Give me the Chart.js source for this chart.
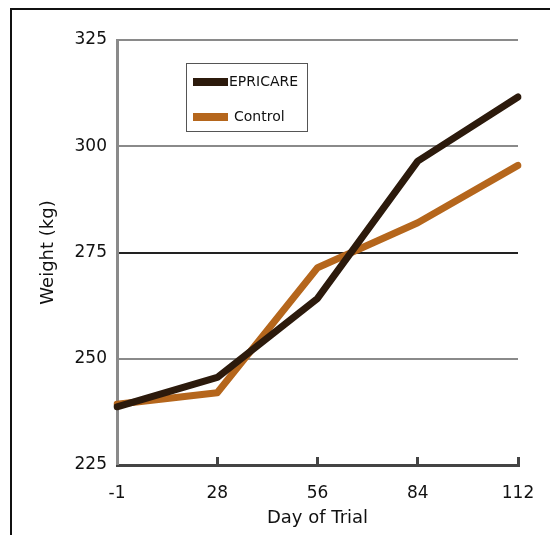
<!DOCTYPE html>
<html lang="en">
<head>
  <meta charset="UTF-8">
  <title>Weight by Day of Trial</title>
  <script src="https://cdn.jsdelivr.net/npm/chart.js"></script>
  <style>
    html, body {
      margin: 0;
      padding: 0;
      background: #fff;
    }
    .frame {
      position: absolute;
      left: 10px;
      top: 8px;
      width: 560px;
      height: 560px;
      border-left: 2px solid #111;
      border-top: 2px solid #111;
    }
    .wrap {
      position: absolute;
      left: 0;
      top: 0;
      width: 550px;
      height: 535px;
    }
  </style>
</head>
<body>
  <div class="frame"></div>
  <div class="wrap"><canvas id="weightChart" width="550" height="535"></canvas></div>
  <script>
    const days = ['-1', '28', '56', '84', '112'];
    const epricare = [238.7, 245.6, 264.2, 296.5, 311.6];
    const control = [239.3, 242.0, 271.4, 282.0, 295.5];
    const yTicks = [225, 250, 275, 300, 325];

    const FONT = "'DejaVu Sans', Verdana, sans-serif";

    // legend drawn as a box inside the plot, like the original
    const boxLegend = {
      id: 'boxLegend',
      afterDatasetsDraw(chart) {
        const ctx = chart.ctx;
        ctx.save();
        ctx.strokeStyle = '#555';
        ctx.lineWidth = 1;
        ctx.strokeRect(186.5, 63.5, 121, 68);
        const rows = [82, 117];
        chart.data.datasets.forEach((ds, i) => {
          ctx.fillStyle = ds.borderColor;
          ctx.fillRect(193, rows[i] - 4, 35, 8);
          ctx.fillStyle = '#111';
          ctx.font = '14px ' + FONT;
          ctx.textBaseline = 'middle';
          ctx.fillText(ds.label, i === 0 ? 229 : 234, rows[i]);
        });
        ctx.restore();
      }
    };

    new Chart(document.getElementById('weightChart'), {
      type: 'line',
      data: {
        labels: days,
        datasets: [
          {
            label: 'EPRICARE',
            data: epricare,
            borderColor: '#2c1a0c',
            borderWidth: 7,
            borderJoinStyle: 'round',
            borderCapStyle: 'round',
            pointRadius: 0,
            tension: 0,
            order: 1
          },
          {
            label: 'Control',
            data: control,
            borderColor: '#b5661c',
            borderWidth: 7,
            borderJoinStyle: 'round',
            borderCapStyle: 'round',
            pointRadius: 0,
            tension: 0,
            order: 2
          }
        ]
      },
      options: {
        responsive: false,
        animation: false,
        events: [],
        layout: { padding: { top: 40, right: 32, left: 0, bottom: 0 } },
        plugins: {
          legend: { display: false },
          tooltip: { enabled: false }
        },
        scales: {
          x: {
            offset: false,
            afterFit: s => { s.height = 70; s.paddingLeft = 0; s.paddingRight = 0; },
            grid: {
              drawOnChartArea: false,
              drawTicks: true,
              tickLength: -8,
              tickWidth: 3,
              tickColor: '#444'
            },
            border: { color: '#444', width: 3 },
            ticks: {
              color: '#111',
              font: { family: FONT, size: 17 },
              padding: 26,
              maxRotation: 0
            },
            title: {
              display: true,
              text: 'Day of Trial',
              color: '#111',
              font: { family: FONT, size: 18 },
              padding: { top: 0, bottom: 6 }
            }
          },
          y: {
            min: 225,
            max: 325,
            afterFit: s => { s.width = 117; s.paddingTop = 0; s.paddingBottom = 0; },
            afterBuildTicks: s => { s.ticks = yTicks.map(v => ({ value: v })); },
            grid: {
              drawTicks: false,
              color: c => c.tick && c.tick.value === 275 ? '#222' : '#8a8a8a',
              lineWidth: c => c.tick && c.tick.value === 225 ? 0 : 2
            },
            border: { color: '#8a8a8a', width: 3 },
            ticks: {
              color: '#111',
              font: { family: FONT, size: 17 },
              padding: 10
            },
            title: {
              display: true,
              text: 'Weight (kg)',
              color: '#111',
              font: { family: FONT, size: 18 },
              padding: { top: 38, bottom: 0 }
            }
          }
        }
      },
      plugins: [boxLegend]
    });
  </script>
</body>
</html>
